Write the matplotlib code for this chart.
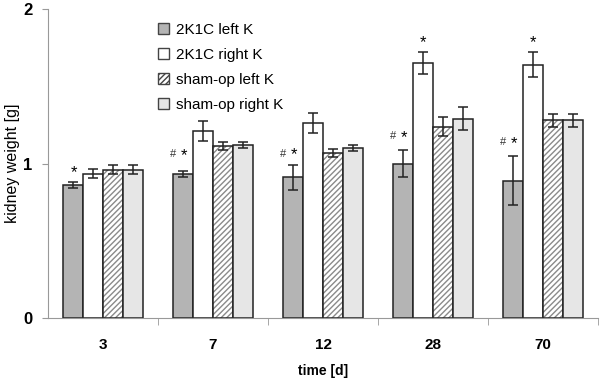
import numpy as np
import matplotlib
matplotlib.use("Agg")
import matplotlib.pyplot as plt
from matplotlib.patches import Patch

plt.rcParams['font.family'] = ['Liberation Sans', 'DejaVu Sans']
plt.rcParams['hatch.color'] = "#8a8a8a"

times = ["3", "7", "12", "28", "70"]
series = ["2K1C left K", "2K1C right K", "sham-op left K", "sham-op right K"]

left_2k1c = [0.86, 0.935, 0.91, 1.00, 0.89]
left_2k1c_err = [0.02, 0.02, 0.08, 0.09, 0.16]
right_2k1c = [0.935, 1.21, 1.26, 1.65, 1.64]
right_2k1c_err = [0.03, 0.065, 0.065, 0.07, 0.08]
left_sham = [0.96, 1.115, 1.07, 1.24, 1.28]
left_sham_err = [0.03, 0.025, 0.025, 0.06, 0.04]
right_sham = [0.96, 1.12, 1.10, 1.29, 1.28]
right_sham_err = [0.03, 0.02, 0.02, 0.075, 0.04]

# significance marks above the bars
star_left_y = [0.94, 1.05, 1.055, 1.17, 1.13]
hash_left = [False, True, True, True, True]
star_right = {3: 1.78, 4: 1.78}

values = [left_2k1c, right_2k1c, left_sham, right_sham]
errors = [left_2k1c_err, right_2k1c_err, left_sham_err, right_sham_err]
faces = ["#b4b4b4", "white", "white", "#e6e6e6"]
hatches = [None, None, "//////", None]

fig = plt.figure(figsize=(6, 3.8), dpi=100)
ax = fig.add_axes([0.08, 0.163, 0.917, 0.813])

x = np.arange(len(times)) + 0.5
w = 0.182
for i, (vals, errs, fc) in enumerate(zip(values, errors, faces)):
    xi = x + (i - 1.5) * w
    if hatches[i]:
        ax.bar(xi, vals, w, color="white", edgecolor="#8a8a8a", hatch=hatches[i], lw=0)
        ax.bar(xi, vals, w, color="none", edgecolor="#222222", lw=1.1)
    else:
        ax.bar(xi, vals, w, color=fc, edgecolor="#222222", lw=1.1)
    ax.errorbar(xi, vals, yerr=errs, fmt="none", ecolor="#222222",
                elinewidth=1.1, capsize=3.3, capthick=1.1)

for g in range(len(times)):
    xl = x[g] - 1.5 * w
    ax.text(xl + 0.01, star_left_y[g], "*", ha="center", va="center", fontsize=12)
    if hash_left[g]:
        ax.text(xl - 0.09, star_left_y[g] + 0.01, "#", ha="center", va="center",
                fontsize=8, color="#333333")
for g, yy in star_right.items():
    ax.text(x[g] - 0.5 * w, yy, "*", ha="center", va="center", fontsize=12)

ax.set_xlim(0, 5)
ax.set_ylim(0, 2)
ax.set_yticks([0, 1, 2])
ax.set_yticklabels(["0", "1", "2"], fontsize=12, fontweight="bold")
ax.set_xticks(x)
ax.set_xticklabels(times, fontsize=11, fontweight="bold")
ax.tick_params(axis="x", length=0, pad=14)
ax.set_xticks(np.arange(1, 6), minor=True)
ax.tick_params(axis="x", which="minor", length=5, color="#999999", direction="out")
ax.tick_params(axis="y", length=4, color="#999999", pad=7)
for s in ["top", "right"]:
    ax.spines[s].set_visible(False)
for s in ["left", "bottom"]:
    ax.spines[s].set_color("#999999")

ax.set_xlabel("time [d]", fontsize=10, fontweight="bold")
ax.xaxis.set_label_coords(0.5, -0.15)
ax.set_ylabel("kidney weight [g]", fontsize=11.5)
ax.yaxis.set_label_coords(-0.05, 0.5)

handles = [Patch(facecolor=fc, edgecolor="#444444", hatch=h, lw=1.0)
           for fc, h in zip(faces, hatches)]
ax.legend(handles, series, loc="upper left", bbox_to_anchor=(0.175, 1.0),
          frameon=False, fontsize=11, handlelength=0.75, handleheight=0.75,
          labelspacing=0.72, handletextpad=0.4)

fig.savefig("out.png", dpi=100)
